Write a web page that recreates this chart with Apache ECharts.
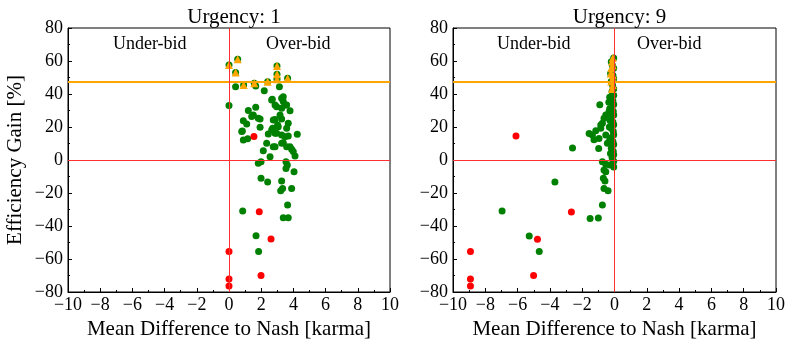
<!DOCTYPE html>
<html>
<head>
<meta charset="utf-8">
<title>Efficiency gain vs bid difference</title>
<script src="https://cdn.jsdelivr.net/npm/echarts@6/dist/echarts.min.js"></script>
<style>
  html, body { margin: 0; padding: 0; background: #fff; }
  #chart { width: 793px; height: 346px; }
</style>
</head>
<body>
<div id="chart"></div>
<script>
// panel titles
var panelTitles = ['Urgency: 1', 'Urgency: 9'];
var xTicks = [-10, 10, 2];
var yTicks = [-80, 80, 20];
var bestGain = 47.5;

// urgency 1: [mean difference, efficiency gain]
var u1Green = [
  [0.41,44.4],[1.66,44.8],[2.19,42],[3.13,44.4],[0,33],[2.69,36.8],[3.37,38.4],
  [1.2,30],[1.66,31.9],[1.51,27.3],[1.93,24.8],[0.89,23.8],[1.1,21.8],[1.93,19.8],
  [0.79,17.2],[0.89,12.1],[1.16,12.9],[2.65,36.4],[2.86,33.3],[3.37,35.4],[3.58,33.3],
  [3.79,29.9],[3.27,31.3],[3.17,27.3],[2.86,24.6],[3.68,22.2],[2.71,19.2],[3.06,20.2],
  [2.44,15.8],[2.86,16.2],[3.27,15.2],[3.68,14.5],[4.24,15.6],[2.34,10.1],[2.75,8.1],
  [3.37,10.5],[3.58,8.1],[3.89,6.5],[4.1,2.4],[2.55,2.0],[2.13,5.6],[1.82,-2.0],
  [1.99,-1.0],[3.54,-1.0],[3.62,-3.0],[3.54,-5.1],[4.04,-7.1],[1.99,-11.1],[2.4,-13.3],
  [3.27,-12.7],[3.21,-18.6],[3.33,-17.2],[3.89,-17.2],[3.64,-27.3],[0.85,-30.9],
  [3.37,-35],[3.68,-35],[1.68,-45.9],[1.84,-55.4],
  [1.41,26.3],[2.75,24.2],[3.27,24.8],[3.02,21.2],[2.65,18.2],[3.58,19.2],[2.96,16.2],
  [3.48,14.1],[2.86,8.1],[3.27,10.1],[3.79,8.1],[3.99,5.1],[2.96,32.3],[3.48,33.3],
  [3.27,37.4],[1.82,25.3],[0.83,17.6],
  [0,57.6],[0.54,61],[0.41,53],[0.91,45.5],[1.57,46.5],[2.4,47.5],[2.98,57],[2.98,52],
  [2.98,49],[3.64,49.5]
];
var u1Best = [
  [0,57.6],[0.54,61],[0.41,53],[0.91,45.5],[1.57,46.5],[2.4,47.5],[2.98,57],[2.98,52],
  [2.98,49],[3.64,49.5]
];
var u1Red = [[1.55,14.3],[1.88,-31.3],[2.61,-47.9],[0,-55.4],[1.99,-70],[0,-72.1],[0,-76.4]];

// urgency 9
var u9Green = [
  [-6.96,-30.9],[-1.51,-35.4],[-1.0,-35.2],[-0.75,-27.2],[-5.28,-46],[-4.66,-55.4],
  [-2.6,7.3],[-3.69,-13.3],[-0.91,33.5],[-0.54,27.3],[-0.85,21.2],[-1.16,17.8],
  [-1.57,16],[-1.37,15.2],[-1.27,12.3],[-0.96,13.1],[-0.54,15.2],[-0.98,6.9],
  [-0.44,10.1],[-0.75,-1],[-0.54,-2.6],[-0.54,-7.1],[-0.65,-6],[-0.69,-11.1],
  [-0.59,-12.7],[-0.65,-17.2],[-0.4,-18.6],[-0.85,19.2],[-0.75,22.2],[-0.65,25.3],
  [-0.34,29.3],[-0.24,52.5],
  [-0.05,61.8],[-0.2,59.5],[-0.12,57.2],[-0.05,55.6],[-0.2,53.1],[-0.1,51.4],
  [-0.05,49.2],[-0.2,47.6],[-0.12,45.3],[-0.05,43.1],[-0.15,41.5],[-0.05,39.2],
  [-0.2,37.4],[-0.1,35.8],[-0.05,33.6],[-0.18,31.2],[-0.08,29.5],[-0.05,27.3],
  [-0.2,25.6],[-0.1,23.1],[-0.05,21.4],[-0.2,19.2],[-0.08,17.5],[-0.05,15.3],
  [-0.18,13.6],[-0.1,11.2],[-0.05,9.4],[-0.2,7.1],[-0.08,5.3],[-0.05,3.2],
  [-0.15,1.4],[-0.05,-0.8],[-0.12,-2.5],[-0.05,-4.3],
  [-0.3,38],[-0.35,35],[-0.3,31],[-0.28,24],[-0.32,20],[-0.3,12],[-0.25,4],[-0.3,-3]
];
var u9Best = [
  [-0.1,61.8],[-0.15,59.5],[-0.1,57.2],[-0.2,55.6],[-0.24,52.5],[-0.1,51.4],
  [-0.1,49.2],[-0.2,47.6],[-0.1,45.3],[-0.15,43.1]
];
var u9Red = [[-6.1,14.5],[-2.67,-31.5],[-4.77,-48.1],[-8.92,-55.4],[-5.01,-70],[-8.92,-72.1],[-8.92,-76.4]];

var FONT = 'Liberation Serif';
function minus(v) { return String(v).replace('-', '\u2212'); }

function xAxisFor(i) {
  return {
    gridIndex: i, type: 'value', min: xTicks[0], max: xTicks[1], interval: xTicks[2],
    name: 'Mean Difference to Nash [karma]', nameLocation: 'middle', nameGap: 26,
    nameTextStyle: { fontFamily: FONT, fontSize: 21, color: '#000' },
    axisLine: { onZero: false, lineStyle: { color: '#000', width: 1 } },
    axisTick: { inside: true, length: 4, lineStyle: { color: '#000' } },
    minorTick: { show: true, splitNumber: 2, length: 2, lineStyle: { color: '#000' } },
    axisLabel: { fontFamily: FONT, fontSize: 18, color: '#000', margin: 4, formatter: minus },
    splitLine: { show: false }
  };
}
function yAxisFor(i) {
  return {
    gridIndex: i, type: 'value', min: yTicks[0], max: yTicks[1], interval: yTicks[2],
    name: i === 0 ? 'Efficiency Gain [%]' : '', nameLocation: 'middle', nameGap: 42,
    nameTextStyle: { fontFamily: FONT, fontSize: 21, color: '#000' },
    axisLine: { onZero: false, lineStyle: { color: '#000', width: 1 } },
    axisTick: { inside: true, length: 4, lineStyle: { color: '#000' } },
    minorTick: { show: true, splitNumber: 2, length: 2, lineStyle: { color: '#000' } },
    axisLabel: { fontFamily: FONT, fontSize: 18, color: '#000', margin: 5, formatter: minus },
    splitLine: { show: false }
  };
}

function panelSeries(i, green, red, best) {
  return [
    { type: 'scatter', xAxisIndex: i, yAxisIndex: i, data: green, symbol: 'circle', symbolSize: 7,
      itemStyle: { color: '#008000', opacity: 1 }, z: 2 },
    { type: 'scatter', xAxisIndex: i, yAxisIndex: i, data: best, symbol: 'triangle', symbolSize: 8,
      itemStyle: { color: '#ffa500', opacity: 1 }, z: 3 },
    { type: 'scatter', xAxisIndex: i, yAxisIndex: i, data: red, symbol: 'circle', symbolSize: 7,
      itemStyle: { color: '#ff0000', opacity: 1 }, z: 4 },
    { type: 'scatter', xAxisIndex: i, yAxisIndex: i, data: [], z: 5,
      markLine: {
        silent: true, symbol: 'none', label: { show: false }, animation: false,
        data: [
          { yAxis: bestGain, lineStyle: { color: '#ffa500', width: 2, type: 'solid' } },
          { xAxis: 0, lineStyle: { color: '#ff3030', width: 1, type: 'solid' } },
          { yAxis: 0, lineStyle: { color: '#ff3030', width: 1, type: 'solid' } }
        ]
      } }
  ];
}

var grids = [
  { left: 68, top: 28, width: 322, height: 264 },
  { left: 453, top: 28, width: 323, height: 264 }
];

var chart = echarts.init(document.getElementById('chart'), null, { renderer: 'canvas' });
chart.setOption({
  animation: false,
  backgroundColor: '#fff',
  title: panelTitles.map(function (t, i) {
    return {
      text: t, left: grids[i].left + grids[i].width / 2, top: 2, textAlign: 'center',
      textStyle: { fontFamily: FONT, fontSize: 21, fontWeight: 'normal', color: '#000' }
    };
  }),
  grid: grids.map(function (g) {
    return Object.assign({ show: true, borderColor: '#000', borderWidth: 1, backgroundColor: 'transparent' }, g);
  }),
  xAxis: [xAxisFor(0), xAxisFor(1)],
  yAxis: [yAxisFor(0), yAxisFor(1)],
  graphic: [
    { type: 'text', left: 113, top: 35, style: { text: 'Under-bid', fontFamily: FONT, fontSize: 18, fill: '#000' } },
    { type: 'text', left: 266, top: 35, style: { text: 'Over-bid', fontFamily: FONT, fontSize: 18, fill: '#000' } },
    { type: 'text', left: 497, top: 35, style: { text: 'Under-bid', fontFamily: FONT, fontSize: 18, fill: '#000' } },
    { type: 'text', left: 637, top: 35, style: { text: 'Over-bid', fontFamily: FONT, fontSize: 18, fill: '#000' } }
  ],
  series: panelSeries(0, u1Green, u1Red, u1Best).concat(panelSeries(1, u9Green, u9Red, u9Best))
});
</script>
</body>
</html>
